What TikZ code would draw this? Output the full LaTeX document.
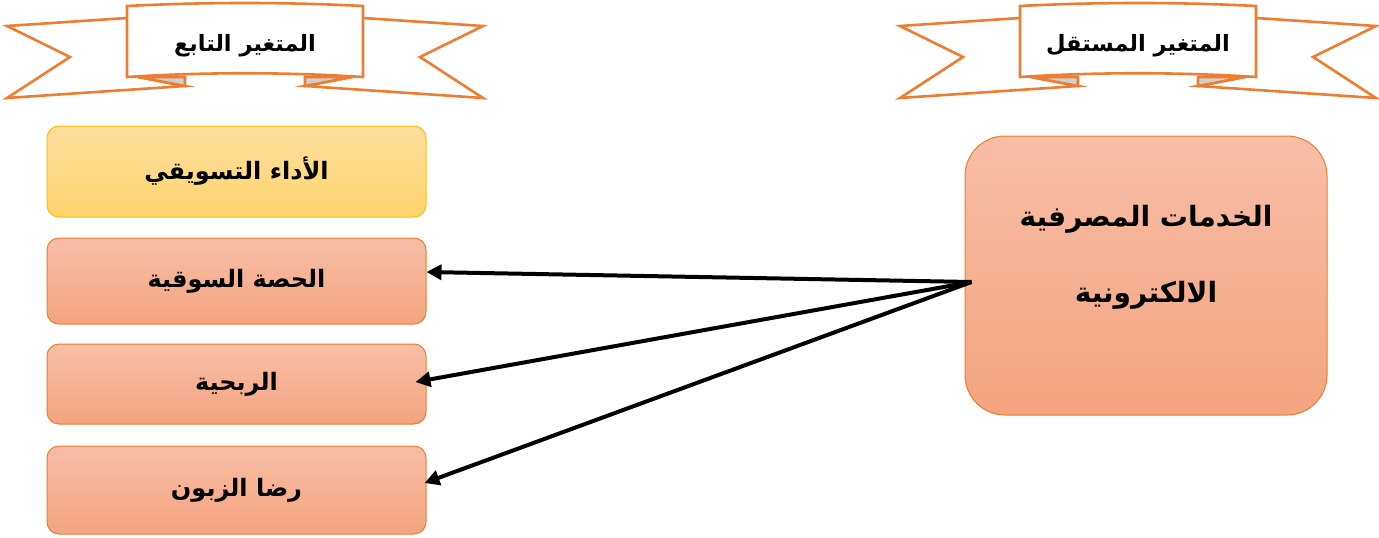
\documentclass[tikz,border=0pt]{standalone}
\usepackage{fontspec}
\newfontfamily\arabicfont[Script=Arabic]{DejaVu Sans}
\TeXXeTstate=1
\usetikzlibrary{arrows.meta,calc}
\definecolor{orn}{HTML}{ED7D31}
\definecolor{gold}{HTML}{FFC000}
\definecolor{salmonT}{HTML}{F7BEA6}
\definecolor{salmonB}{HTML}{F4A47F}
\definecolor{yelT}{HTML}{FEDE9E}
\definecolor{yelB}{HTML}{FFD46C}
\definecolor{foldgray}{HTML}{CFCFCF}
\tikzset{
  ar/.style={font=\arabicfont\bfseries\fontsize{22.5}{27}\selectfont, text=black},
  rib/.style={draw=orn, line width=2.6pt, fill=white, line join=miter},
  foldpart/.style={draw=orn, line width=2.6pt, fill=foldgray, line join=miter},
  salbox/.style={draw=orn, line width=1pt, rounded corners=12pt, top color=salmonT, bottom color=salmonB, inner sep=0pt, font=\arabicfont\bfseries\fontsize{24}{29}\selectfont},
  yelbox/.style={draw=gold, line width=1pt, rounded corners=12pt, top color=yelT, bottom color=yelB, inner sep=0pt, font=\arabicfont\bfseries\fontsize{24}{29}\selectfont},
  bigbox/.style={draw=orn, line width=1pt, rounded corners=40pt, top color=salmonT, bottom color=salmonB, inner sep=0pt},
  bigtext/.style={align=center, inner sep=0pt, font=\arabicfont\bfseries\fontsize{28}{34}\selectfont},
  conn/.style={line width=4pt, -{Triangle[length=15pt,width=15pt]}}
}
\newcommand\myribbon[3]{%
  \begin{scope}[shift={(#1,0)}]
    \filldraw[rib] (-118,18) -- (-238,26) -- (-175,57) -- (-238,98) -- (-60,86) -- (-107,77) -- cycle;
    \filldraw[rib] (118,18) -- (238,26) -- (175,57) -- (238,98) -- (60,86) -- (107,77) -- cycle;
    \filldraw[foldpart] (-107,77) -- (-60,77) -- (-60,86) -- cycle;
    \filldraw[foldpart] (107,77) -- (60,77) -- (60,86) -- cycle;
    \filldraw[rib] (-118,6) .. controls (-40,2) and (40,2) .. (118,6) -- (118,77) .. controls (40,72) and (-40,72) .. (-118,77) -- cycle;
    \node[ar] (#2) at (0,46) {#3};
  \end{scope}}
\begin{document}
\begin{tikzpicture}[x=1pt,y=-1pt]
  \useasboundingbox (0,0) rectangle (1379,538);
  \myribbon{245}{ribdep}{\beginR المتغير التابع\endR}
  \myribbon{1138}{ribind}{\beginR المتغير المستقل\endR}
  \node[yelbox, minimum width=379pt, minimum height=91pt] (b1) at (236.5,171.5) {\beginR الأداء التسويقي\endR};
  \node[salbox, minimum width=379pt, minimum height=86pt] (b2) at (236.5,281) {\beginR الحصة السوقية\endR};
  \node[salbox, minimum width=379pt, minimum height=80pt] (b3) at (236.5,384) {\beginR الربحية\endR};
  \node[salbox, minimum width=379pt, minimum height=88pt] (b4) at (236.5,490) {\beginR رضا الزبون\endR};
  \node[bigbox, minimum width=362pt, minimum height=279pt] (big) at (1146,275.5) {};
  \node[bigtext] (bigt) at (1146,257)
    {\beginR الخدمات المصرفية\endR\\[42pt]\beginR الالكترونية\endR};
  \coordinate (src) at ($(big.west)+(7,6.5)$);
  \coordinate (t2) at ($(b2.east)+(0,-9)$);
  \coordinate (t3) at ($(b3.east)+(-11,-2)$);
  \coordinate (t4) at ($(b4.east)+(-2,-7)$);
  \draw[conn] (src) -- (t2);
  \draw[conn] (src) -- (t3);
  \draw[conn] (src) -- (t4);
\end{tikzpicture}
\end{document}
